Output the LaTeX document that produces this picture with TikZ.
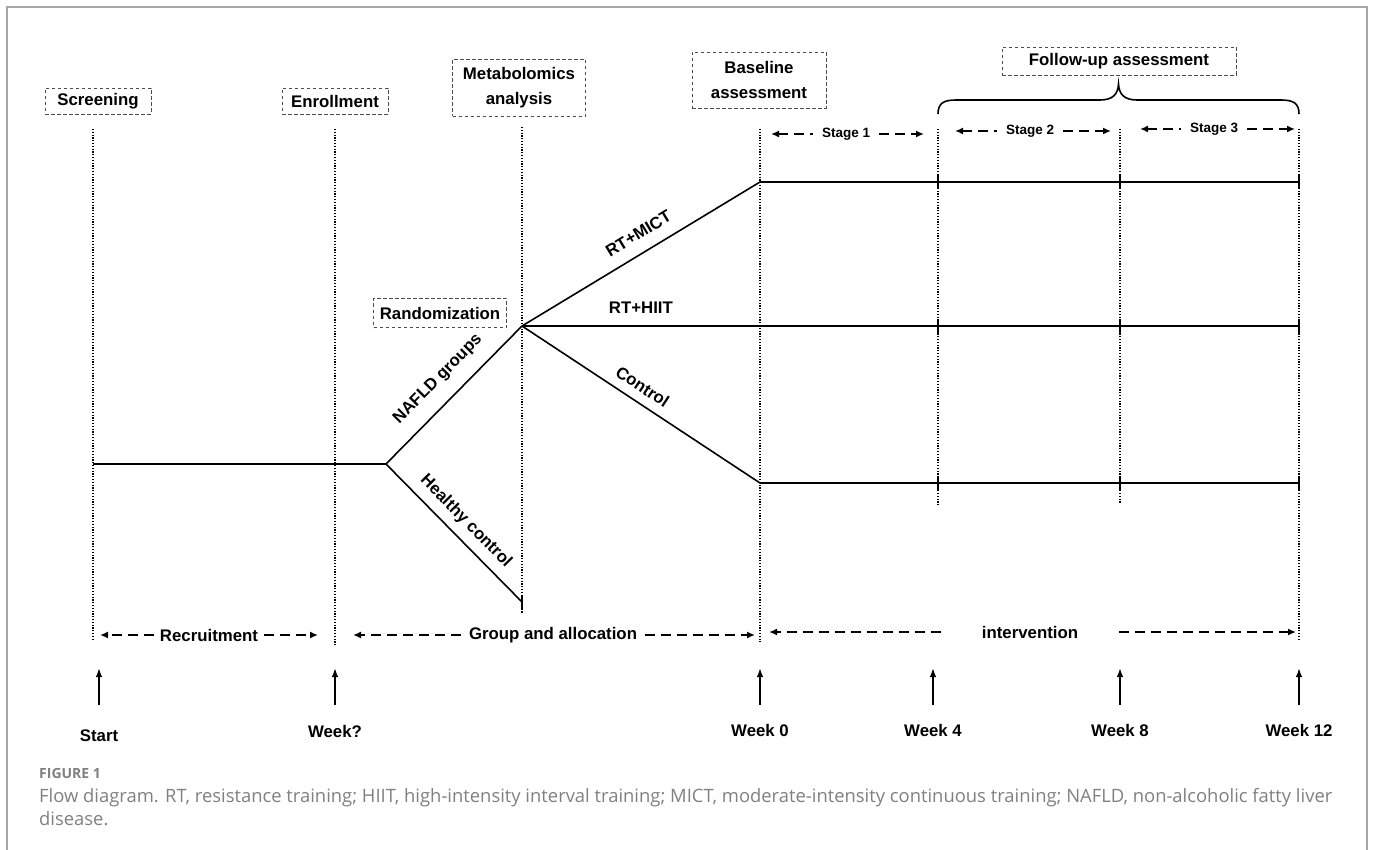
\documentclass[tikz,border=0pt]{standalone}
\usepackage{fontspec}
\setmainfont{Liberation Sans}
\newfontfamily\captionfamily{Open Sans}
\colorlet{FrameLine}{black!35}
\colorlet{BoxLine}{black!70}
\colorlet{CaptionText}{black!50}
\usetikzlibrary{arrows.meta, positioning}
\tikzset{
    label font/.style={font=\bfseries\fontsize{16.8}{25}\selectfont},
    dashed box/.style={label font, draw=BoxLine, line width=0.9pt,
        dash pattern=on 3.5pt off 2.5pt, inner sep=0pt, align=center},
    time line/.style={line width=1.6pt},
    guide line/.style={line width=1.2pt, dash pattern=on 1.2pt off 1.6pt},
    span arrow/.style={line width=2.6pt, dash pattern=on 10pt off 6pt},
    stage arrow/.style={line width=2.6pt, dash pattern=on 10pt off 6pt},
    stage label/.style={font=\bfseries\fontsize{13.5}{16}\selectfont,
        inner sep=0pt, outer xsep=9pt},
    week label/.style={label font, inner sep=0pt},
    up arrow/.style={line width=1.7pt, -{Latex[length=9pt,width=6.5pt]}},
    tick mark/.style={line width=2.4pt},
}

\begin{document}
\begin{tikzpicture}[x=1pt, y=-1pt, >={Latex[length=8pt,width=7pt]}]
\useasboundingbox (0,0) rectangle (1373,850);

% Marco de la figura
\draw[FrameLine, line width=2pt] (7,850) -- (7,7) -- (1367,7) -- (1367,850);

% Cajas de las etapas
\node[dashed box, minimum width=106pt, minimum height=26pt] (scr) at (98,101) {Screening};
\node[dashed box, minimum width=106pt, minimum height=26pt] (enr) at (335,101) {Enrollment};
\node[dashed box, minimum width=133pt, minimum height=57pt] (meta) at (519,88) {Metabolomics\\analysis};
\node[dashed box, minimum width=134pt, minimum height=56pt] (base) at (759,80) {Baseline\\assessment};
\node[dashed box, minimum width=234pt, minimum height=28pt] (follow) at (1119,61) {Follow-up assessment};
\node[dashed box, minimum width=133pt, minimum height=29pt] (rand) at (440,313) {Randomization};

% Lineas guia punteadas
\draw[guide line] (93,129) -- (93,640);
\draw[guide line] (335,129) -- (335,645);
\draw[guide line] (522,127) -- (522,613);
\draw[guide line] (760,129) -- (760,642);
\draw[guide line] (938,129) -- (938,505);
\draw[guide line] (1120,129) -- (1120,503);
\draw[guide line] (1299,129) -- (1299,640);

% Llave sobre el seguimiento
\draw[line width=1.6pt] (938,114) .. controls (938,103) and (944,100) .. (956,100)
    -- (1100,100) .. controls (1113,100) and (1118,94) .. (1118.5,84)
    .. controls (1119,94) and (1124,100) .. (1137,100)
    -- (1281,100) .. controls (1293,100) and (1299,103) .. (1299,114);

\coordinate (S) at (93,464);
\coordinate (J) at (386,464);
\coordinate (R) at (522,326);
\coordinate (H) at (522,602);
\coordinate (M0) at (760,182);
\coordinate (M12) at (1299,182);
\coordinate (I12) at (1299,326);
\coordinate (C0) at (760,483);
\coordinate (C12) at (1299,483);

% Grupos
\draw[time line] (S) -- (J);
\draw[time line] (J) -- node[sloped, above=14pt, label font, inner sep=0pt] (nafld) {NAFLD groups} (R);
\draw[time line] (J) -- node[sloped, above=8pt, label font, inner sep=0pt] (healthy) {Healthy control} (H);
\draw[time line] (R) -- node[pos=0.53, sloped, above=12pt, label font, inner sep=0pt] (mict) {RT+MICT} (M0) -- (M12);
\draw[time line] (R) -- node[pos=0.153, above=12pt, label font, inner sep=0pt] (hiit) {RT+HIIT} (I12);
\draw[time line] (R) -- node[pos=0.47, sloped, above=9pt, label font, inner sep=0pt] (ctrl) {Control} (C0) -- (C12);

\draw[tick mark] (522,596) -- (522,609);
\draw[tick mark] (938,175) -- (938,189) (1120,175) -- (1120,189) (1299,175) -- (1299,189);
\draw[tick mark] (938,319) -- (938,333) (1120,319) -- (1120,333) (1299,319) -- (1299,333);
\draw[tick mark] (938,476) -- (938,490) (1120,476) -- (1120,490) (1299,476) -- (1299,490);

% Etapas de la intervencion
\node[stage label] (st1) at (846,134) {Stage 1};
\node[stage label] (st2) at (1030,131) {Stage 2};
\node[stage label] (st3) at (1214,129) {Stage 3};
\coordinate (st1L) at (771,134);
\coordinate (st1R) at (924,134);
\coordinate (st2L) at (955,131);
\coordinate (st2R) at (1111,131);
\coordinate (st3L) at (1140,129);
\coordinate (st3R) at (1295,129);
\draw[stage arrow, <-] (st1L) -- (st1.west);
\draw[stage arrow, ->] (st1.east) -- (st1R);
\draw[stage arrow, <-] (st2L) -- (st2.west);
\draw[stage arrow, ->] (st2.east) -- (st2R);
\draw[stage arrow, <-] (st3L) -- (st3.west);
\draw[stage arrow, ->] (st3.east) -- (st3R);

% Periodos
\node[week label, outer xsep=6pt] (recr) at (209,635) {Recruitment};
\node[week label, outer xsep=8pt] (group) at (553,635) {Group and allocation};
\node[week label, outer xsep=41pt] (interv) at (1030,632) {intervention};
\coordinate (recrL) at (100,635);
\coordinate (recrR) at (318,635);
\coordinate (groupL) at (353,635);
\coordinate (groupR) at (755,635);
\coordinate (intervL) at (769,632);
\coordinate (intervR) at (1296,632);
\draw[span arrow, ->] (recr.west) -- (recrL);
\draw[span arrow, ->] (recr.east) -- (recrR);
\draw[span arrow, ->] (group.west) -- (groupL);
\draw[span arrow, ->] (group.east) -- (groupR);
\draw[span arrow, ->] (interv.west) -- (intervL);
\draw[span arrow, ->] (interv.east) -- (intervR);

% Semanas
\coordinate (a1) at (99,705);   \coordinate (a1t) at (99,668);
\coordinate (a2) at (335,705);  \coordinate (a2t) at (335,668);
\coordinate (a3) at (760,705);  \coordinate (a3t) at (760,668);
\coordinate (a4) at (933,705);  \coordinate (a4t) at (933,668);
\coordinate (a5) at (1120,705); \coordinate (a5t) at (1120,668);
\coordinate (a6) at (1299,705); \coordinate (a6t) at (1299,668);
\draw[up arrow] (a1) -- (a1t);
\draw[up arrow] (a2) -- (a2t);
\draw[up arrow] (a3) -- (a3t);
\draw[up arrow] (a4) -- (a4t);
\draw[up arrow] (a5) -- (a5t);
\draw[up arrow] (a6) -- (a6t);
\node[week label, below=25pt of a1] (start) {Start};
\node[week label, below=20pt of a2] (wq) {Week?};
\node[week label, below=19pt of a3] (w0) {Week 0};
\node[week label, below=19pt of a4] (w4) {Week 4};
\node[week label, below=19pt of a5] (w8) {Week 8};
\node[week label, below=19pt of a6] (w12) {Week 12};

% Pie de figura
\node[anchor=west, inner sep=0pt, text=CaptionText,
    font=\captionfamily\bfseries\fontsize{14}{16}\selectfont] (fig) at (39,773) {FIGURE 1};
\node[anchor=north west, align=left, inner sep=0pt, text=CaptionText,
    font=\captionfamily\fontsize{18.4}{23}\selectfont] (cap) at (39,788)
    {Flow diagram. RT, resistance training; HIIT, high-intensity interval training; MICT, moderate-intensity continuous training; NAFLD, non-alcoholic fatty liver\\disease.};
\end{tikzpicture}
\end{document}
